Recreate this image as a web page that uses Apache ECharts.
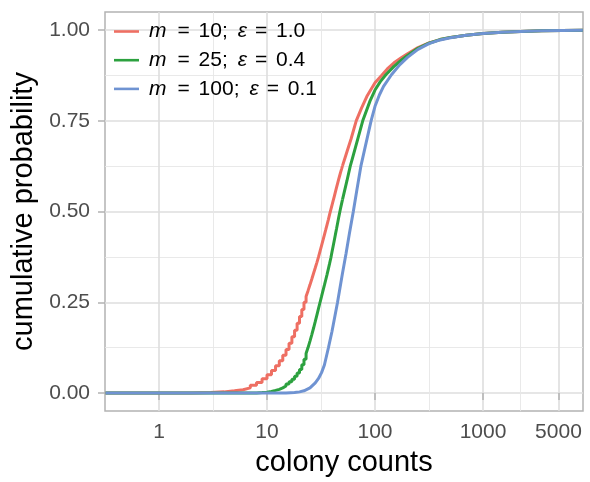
<!DOCTYPE html>
<html>
<head>
<meta charset="utf-8">
<script src="https://cdn.jsdelivr.net/npm/echarts@6/dist/echarts.min.js"></script>
<style>html,body{margin:0;padding:0;background:#fff;}#c{width:590px;height:482px;}</style>
</head>
<body>
<div id="c"></div>
<script>
// integer counts for the stepped (visible staircase) part
const stepCounts = [1,2,3,4,5,6,7,8,9,10,11,12,13,14,15,16,17,18,19,20,21,22,23,24,25,26,27,28,29,30,31,32,33,34,35,36,37,38,39,40,41,42,43,44,45,46,47,48,49,50];
const redLow = [0.000,0.001,0.003,0.006,0.009,0.014,0.021,0.029,0.039,0.050,
                0.062,0.075,0.089,0.104,0.120,0.137,0.155,0.173,0.192,0.211,
                0.230,0.250,0.266,0.282,0.298,0.314,0.330,0.345,0.360,0.375,
                0.391,0.406,0.421,0.436,0.450,0.464,0.478,0.492,0.505,0.518,
                0.530,0.542,0.554,0.566,0.577,0.588,0.598,0.608,0.617,0.626];
const greenLow = [0,0,0,0,0,0,0,0.001,0.002,0.004,
                  0.007,0.010,0.014,0.019,0.025,0.031,0.038,0.046,0.055,0.065,
                  0.078,0.093,0.109,0.125,0.143,0.161,0.179,0.197,0.215,0.233,
                  0.250,0.266,0.282,0.297,0.312,0.327,0.342,0.357,0.372,0.389,
                  0.405,0.421,0.437,0.452,0.467,0.482,0.496,0.509,0.521,0.533];
// upper parts (steps too small to see)
const redTailCounts = [50,55,60,67,75,85,100,115,130,150,175,200,250,316,400,500,700,1000,1500,2236,3500,8400];
const redTail = [0.626,0.665,0.700,0.750,0.785,0.820,0.855,0.875,0.893,0.910,0.924,0.935,0.952,0.965,0.974,0.980,0.986,0.991,0.994,0.996,0.998,1.000];
const greenTailCounts = [50,55,59,62,70,77,90,100,112,126,150,175,200,250,316,400,500,700,1000,1500,2236,3500,8400];
const greenTail = [0.533,0.585,0.625,0.648,0.705,0.750,0.805,0.835,0.858,0.877,0.900,0.917,0.930,0.950,0.964,0.974,0.980,0.986,0.991,0.994,0.996,0.998,1.000];
const blueCounts = [0.32,10,15,18,20,22,25,28,30,32,34,37,40,45,50,54,58,63,68,74,80,92,100,110,120,142,170,200,250,316,400,500,700,1000,1500,2236,3500,8400];
const blueVals = [0,0,0,0.001,0.003,0.006,0.014,0.028,0.040,0.056,0.077,0.124,0.170,0.250,0.330,0.385,0.440,0.500,0.560,0.625,0.670,0.750,0.790,0.822,0.845,0.877,0.905,0.925,0.947,0.963,0.973,0.979,0.986,0.991,0.994,0.996,0.998,1.000];

const xTicks = [1,10,100,1000,5000];
const xMinor = [3.1623,31.623,316.23,2236.1];
const yTicks = [0,0.25,0.5,0.75,1];
const yMinor = [0.125,0.375,0.625,0.875];
const seriesNames = ['m10','m25','m100'];
const legendLabels = {
  m10:'{mi|m}{eq|=} 10;{ep|ε}{eq|=} 1.0',
  m25:'{mi|m}{eq|=} 25;{ep|ε}{eq|=} 0.4',
  m100:'{mi|m}{eq|=} 100;{ep|ε}{eq|=} 0.1'
};
const colors = ['#EE6F63','#2CA13F','#6F93D2'];

function pairs(xs, ys, start){ const out = start ? [[0.32,0]] : []; xs.forEach((x,i)=>out.push([x,ys[i]])); return out; }

const FONT = '"Liberation Sans", Arial, Helvetica, sans-serif';
const FS = 21;
const chart = echarts.init(document.getElementById('c'));
const lw = 3;
chart.setOption({
  animation:false,
  textStyle:{fontFamily:FONT},
  grid:{left:105, right:7, top:12, bottom:70, show:true, borderColor:'#b3b3b3', borderWidth:1.5, backgroundColor:'#fff'},
  legend:{
    data:seriesNames, orient:'vertical', left:114, top:21, padding:0,
    icon:'rect', itemWidth:25, itemHeight:2.6, itemGap:7.7,
    formatter:n=>legendLabels[n],
    textStyle:{fontFamily:FONT, fontSize:FS, color:'#000', lineHeight:21, padding:[0,0,0,5],
      rich:{
        mi:{fontStyle:'italic', fontFamily:FONT, fontSize:FS, color:'#000', lineHeight:21, padding:[0,11,0,0]},
        ep:{fontStyle:'italic', fontFamily:FONT, fontSize:FS, color:'#000', lineHeight:21, padding:[0,8,0,10]},
        eq:{fontFamily:FONT, fontSize:FS, color:'#000', lineHeight:21, padding:[0,3,0,0]}
      }}
  },
  xAxis:[{
    type:'log', logBase:10, min:0.3162, max:8433,
    axisLine:{show:false},
    axisTick:{show:true, customValues:xTicks, length:7, lineStyle:{color:'#b3b3b3', width:1.5}},
    axisLabel:{customValues:xTicks, formatter:v=>String(Math.round(v)), color:'#4d4d4d', fontSize:FS, margin:11, fontFamily:FONT},
    splitLine:{show:true, lineStyle:{color:'#dedede', width:1.6}},
    minorTick:{show:false}, minorSplitLine:{show:false},
    name:'colony counts', nameLocation:'middle', nameGap:36,
    nameTextStyle:{fontSize:29, color:'#000', fontFamily:FONT}
  },{
    type:'log', logBase:10, min:0.3162, max:8433, position:'bottom',
    axisLine:{show:false}, axisLabel:{show:false},
    axisTick:{show:false, customValues:xMinor},
    splitLine:{show:true, lineStyle:{color:'#e6e6e6', width:0.9}}
  }],
  yAxis:[{
    type:'value', min:-0.05, max:1.05,
    axisLine:{show:false},
    axisTick:{show:true, customValues:yTicks, length:7, lineStyle:{color:'#b3b3b3', width:1.5}},
    axisLabel:{customValues:yTicks, formatter:v=>v.toFixed(2), color:'#4d4d4d', fontSize:FS, margin:15, fontFamily:FONT},
    splitLine:{show:true, lineStyle:{color:'#dedede', width:1.6}},
    name:'cumulative probability', nameLocation:'middle', nameGap:65,
    nameTextStyle:{fontSize:29, color:'#000', fontFamily:FONT}
  },{
    type:'value', min:-0.05, max:1.05, position:'left',
    axisLine:{show:false}, axisLabel:{show:false},
    axisTick:{show:false, customValues:yMinor},
    splitLine:{show:true, lineStyle:{color:'#e6e6e6', width:0.9}}
  }],
  series:[
    {name:'m10', type:'line', step:'end', data:pairs(stepCounts, redLow, true), symbol:'none', lineStyle:{width:lw, color:colors[0]}, itemStyle:{color:colors[0]}, z:2},
    {name:'m10_tail', type:'line', data:pairs(redTailCounts, redTail, false), symbol:'none', lineStyle:{width:lw, color:colors[0]}, itemStyle:{color:colors[0]}, z:2},
    {name:'m25', type:'line', step:'end', data:pairs(stepCounts, greenLow, true), symbol:'none', lineStyle:{width:lw, color:colors[1]}, itemStyle:{color:colors[1]}, z:3},
    {name:'m25_tail', type:'line', data:pairs(greenTailCounts, greenTail, false), symbol:'none', lineStyle:{width:lw, color:colors[1]}, itemStyle:{color:colors[1]}, z:3},
    {name:'m100', type:'line', data:pairs(blueCounts, blueVals, false), symbol:'none', lineStyle:{width:lw, color:colors[2]}, itemStyle:{color:colors[2]}, z:4}
  ]
});
</script>
</body>
</html>
